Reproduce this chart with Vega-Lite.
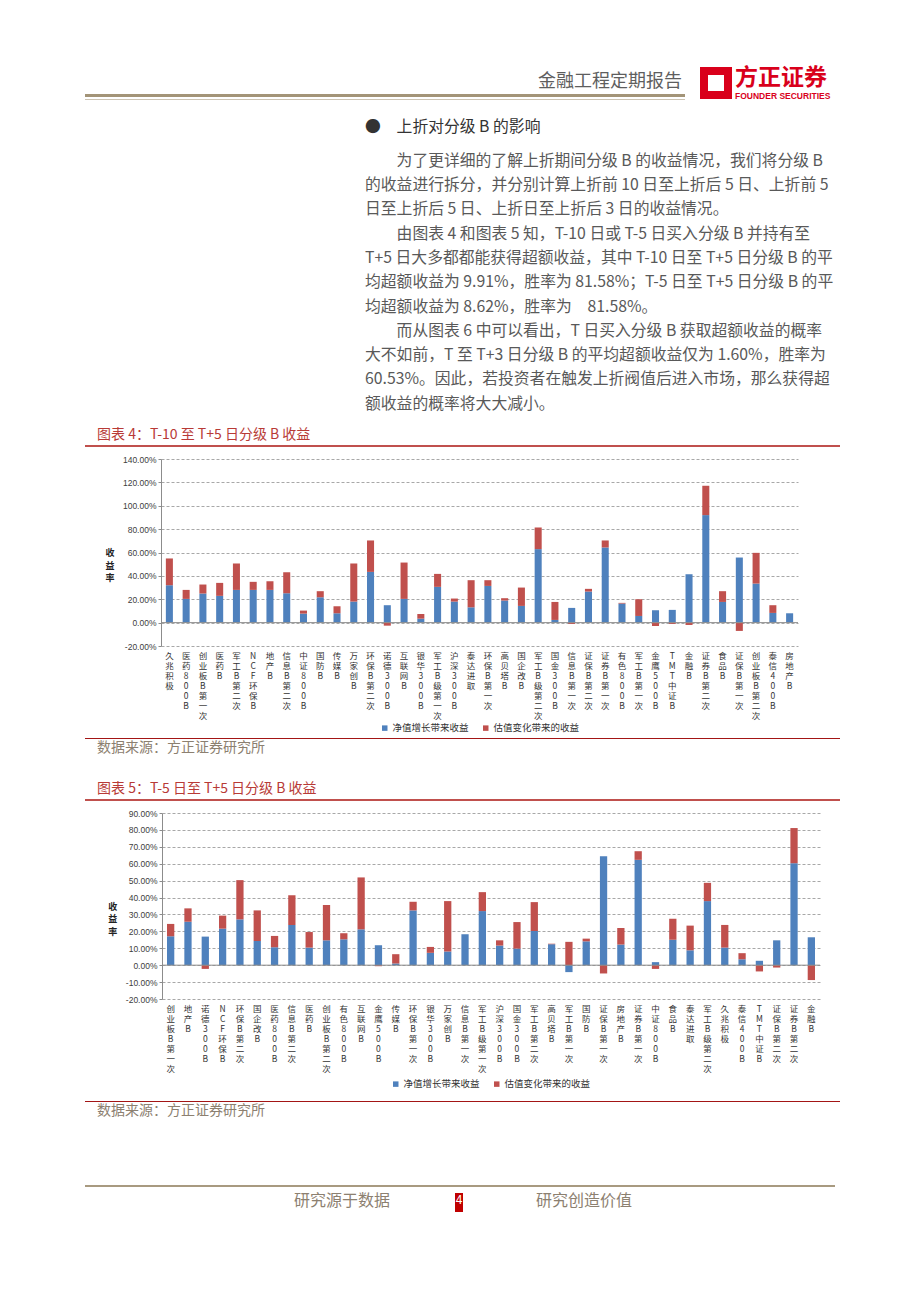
{
  "$schema": "https://vega.github.io/schema/vega-lite/v6.json",
  "background": "white",
  "padding": {"left": 85, "top": 65, "right": 0, "bottom": 0},
  "config": {
    "font": "Noto Sans CJK SC",
    "view": {"stroke": null},
    "title": {"font": "Noto Sans CJK SC", "subtitleFont": "Noto Sans CJK SC", "fontWeight": "normal", "anchor": "start"},
    "legend": {"layout": {"bottom": {"anchor": "middle", "direction": "horizontal"}}},
    "axis": {"labelFont": "Noto Sans CJK SC"}
  },
  "spacing": 0,
  "bounds": "flush",
  "resolve": {"scale": {"color": "independent"}, "legend": {"color": "independent"}},
  "vconcat": [
    {
      "spacing": 0,
      "bounds": "flush",
      "hconcat": [
        {
          "spacing": 0,
          "bounds": "flush",
          "vconcat": [
            {"width": 600, "height": 29, "data": {"values": []}, "mark": "point"},
            {"width": 600, "height": 3, "data": {"values": []}, "mark": "point",
             "view": {"fill": "#a39478", "stroke": null},
             "title": {"text": "金融工程定期报告", "orient": "top", "anchor": "end", "offset": 3, "dx": -3, "fontSize": 18, "color": "#5e5e5e"}},
            {"width": 600, "height": 2, "data": {"values": []}, "mark": "point"},
            {"width": 600, "height": 1, "data": {"values": []}, "mark": "point", "view": {"fill": "#cdc4b3", "stroke": null}}
          ]
        },
        {"width": 619, "height": 35, "data": {"values": []}, "mark": "point"},
        {
          "spacing": 0,
          "bounds": "flush",
          "vconcat": [
            {"width": 24, "height": 6, "data": {"values": []}, "mark": "point"},
            {"width": 24, "height": 24, "data": {"values": []}, "mark": "point", "view": {"fill": "white", "stroke": "#d9001b", "strokeWidth": 8}}
          ]
        },
        {"width": 31, "height": 35, "data": {"values": []}, "mark": "point"},
        {"width": 95, "height": 35, "data": {"values": []}, "mark": "point",
         "title": {"text": "方正证券", "subtitle": "FOUNDER SECURITIES", "orient": "bottom", "offset": -33, "anchor": "start", "fontSize": 23, "fontWeight": "bold", "color": "#d9001b", "subtitleFont": "Liberation Sans", "subtitleFontSize": 8.5, "subtitleFontWeight": "bold", "subtitleColor": "#d9001b", "subtitlePadding": 2}}
      ]
    },
    {"width": 755, "height": 35, "data": {"values": []}, "mark": "point"},
    {"width": 755, "height": 345, "data": {"values": []}, "mark": "point",
     "title": {
       "text": "●　上折对分级 B 的影响",
       "subtitle": [
         "\u200b　　为了更详细的了解上折期间分级 B 的收益情况，我们将分级 B",
         "的收益进行拆分，并分别计算上折前 10 日至上折后 5 日、上折前 5",
         "日至上折后 5 日、上折日至上折后 3 日的收益情况。",
         "\u200b　　由图表 4 和图表 5 知，T-10 日或 T-5 日买入分级 B 并持有至",
         "T+5 日大多都都能获得超额收益，其中 T-10 日至 T+5 日分级 B 的平",
         "均超额收益为 9.91%，胜率为 81.58%；T-5 日至 T+5 日分级 B 的平",
         "均超额收益为 8.62%，胜率为　81.58%。",
         "\u200b　　而从图表 6 中可以看出，T 日买入分级 B 获取超额收益的概率",
         "大不如前，T 至 T+3 日分级 B 的平均超额收益仅为 1.60%，胜率为",
         "60.53%。因此，若投资者在触发上折阀值后进入市场，那么获得超",
         "额收益的概率将大大减小。"
       ],
       "orient": "bottom", "offset": -325, "anchor": "start", "dx": 280,
       "fontSize": 15.8, "color": "#333333",
       "subtitleFontSize": 15.8, "subtitleColor": "#595959", "subtitleLineHeight": 24.3, "subtitlePadding": 18
     }},
    {"width": 755, "height": 2, "data": {"values": []}, "mark": "point",
     "view": {"fill": "#c0504d", "stroke": null},
     "title": {"text": "图表 4：T-10 至 T+5 日分级 B 收益", "orient": "top", "anchor": "start", "dx": 12, "offset": 3, "fontSize": 14, "color": "#b83a36"}},
    {"width": 755, "height": 12, "data": {"values": []}, "mark": "point"},
    {
      "spacing": 0,
      "bounds": "flush",
      "resolve": {"scale": {"color": "independent"}, "legend": {"color": "independent"}},
      "hconcat": [
        {"width": 76, "height": 187, "data": {"values": []}, "mark": "point"},
        {
          "width": 637,
          "height": 187,
          "layer": [
            {
              "data": {"values": [
                {"name": "久兆积极", "净值增长带来收益": 32.0, "估值变化带来的收益": 22.9},
                {"name": "医药800B", "净值增长带来收益": 20.3, "估值变化带来的收益": 7.7},
                {"name": "创业板B第一次", "净值增长带来收益": 24.9, "估值变化带来的收益": 7.7},
                {"name": "医药B", "净值增长带来收益": 22.9, "估值变化带来的收益": 11.1},
                {"name": "军工B第二次", "净值增长带来收益": 28.0, "估值变化带来的收益": 22.6},
                {"name": "NCF环保B", "净值增长带来收益": 28.0, "估值变化带来的收益": 6.9},
                {"name": "地产B", "净值增长带来收益": 28.0, "估值变化带来的收益": 7.4},
                {"name": "信息B第二次", "净值增长带来收益": 25.1, "估值变化带来的收益": 18.0},
                {"name": "中证800B", "净值增长带来收益": 7.7, "估值变化带来的收益": 2.6},
                {"name": "国防B", "净值增长带来收益": 21.7, "估值变化带来的收益": 5.2},
                {"name": "传媒B", "净值增长带来收益": 8.0, "估值变化带来的收益": 6.0},
                {"name": "万家创B", "净值增长带来收益": 18.0, "估值变化带来的收益": 32.6},
                {"name": "环保B第二次", "净值增长带来收益": 43.4, "估值变化带来的收益": 26.9},
                {"name": "诺德300B", "净值增长带来收益": 14.9, "估值变化带来的收益": -2.6},
                {"name": "互联网B", "净值增长带来收益": 20.3, "估值变化带来的收益": 31.1},
                {"name": "银华300B", "净值增长带来收益": 3.4, "估值变化带来的收益": 4.0},
                {"name": "军工B级第一次", "净值增长带来收益": 30.6, "估值变化带来的收益": 11.1},
                {"name": "沪深300B", "净值增长带来收益": 18.0, "估值变化带来的收益": 2.6},
                {"name": "泰达进取", "净值增长带来收益": 13.1, "估值变化带来的收益": 23.2},
                {"name": "环保B第一次", "净值增长带来收益": 31.4, "估值变化带来的收益": 4.9},
                {"name": "高贝塔B", "净值增长带来收益": 18.9, "估值变化带来的收益": 2.0},
                {"name": "国企改B", "净值增长带来收益": 14.3, "估值变化带来的收益": 15.7},
                {"name": "军工B级第二次", "净值增长带来收益": 62.9, "估值变化带来的收益": 18.5},
                {"name": "国金300B", "净值增长带来收益": 2.3, "估值变化带来的收益": 15.4},
                {"name": "信息B第一次", "净值增长带来收益": 12.6, "估值变化带来的收益": -1.1},
                {"name": "证保B第二次", "净值增长带来收益": 26.6, "估值变化带来的收益": 2.3},
                {"name": "证券B第一次", "净值增长带来收益": 64.3, "估值变化带来的收益": 6.0},
                {"name": "有色800B", "净值增长带来收益": 16.3, "估值变化带来的收益": 0.6},
                {"name": "军工B第一次", "净值增长带来收益": 5.7, "估值变化带来的收益": 14.3},
                {"name": "金鹰500B", "净值增长带来收益": 10.6, "估值变化带来的收益": -2.9},
                {"name": "TMT中证B", "净值增长带来收益": 10.9, "估值变化带来的收益": -1.1},
                {"name": "金融B", "净值增长带来收益": 41.4, "估值变化带来的收益": -2.0},
                {"name": "证券B第二次", "净值增长带来收益": 92.0, "估值变化带来的收益": 25.1},
                {"name": "食品B", "净值增长带来收益": 17.7, "估值变化带来的收益": 9.2},
                {"name": "证保B第一次", "净值增长带来收益": 55.7, "估值变化带来的收益": -7.1},
                {"name": "创业板B第二次", "净值增长带来收益": 33.4, "估值变化带来的收益": 26.3},
                {"name": "泰信400B", "净值增长带来收益": 8.3, "估值变化带来的收益": 6.6},
                {"name": "房地产B", "净值增长带来收益": 8.0, "估值变化带来的收益": 0.0}
              ]},
              "transform": [{"fold": ["净值增长带来收益", "估值变化带来的收益"], "as": ["series", "value"]}],
              "mark": {"type": "bar"},
              "encoding": {
                "x": {"field": "name", "type": "nominal", "sort": null, "title": null,
                      "scale": {"paddingInner": 0.58, "paddingOuter": 0.29},
                      "axis": {"labelExpr": "split(datum.label, '')", "labelAngle": 0, "labelFontSize": 8.5, "labelLineHeight": 10, "labelBaseline": "top", "labelAlign": "center", "labelPadding": 5, "ticks": false, "domain": false, "labelColor": "#333333", "labelOverlap": false}},
                "y": {"field": "value", "type": "quantitative", "stack": "zero",
                      "scale": {"domain": [-20, 140], "nice": false, "zero": false},
                      "axis": {"values": [-20, 0, 20, 40, 60, 80, 100, 120, 140], "tickCount": 20, "labelOverlap": false, "labelExpr": "replace(format(datum.value / 100, '.2%'), '−', '-')", "grid": true, "gridDash": [3, 2], "gridColor": "#a8a8a8", "domainColor": "#8c8c8c", "tickColor": "#8c8c8c", "tickSize": 3, "labelFont": "Liberation Sans", "labelFontSize": 8.5, "labelColor": "#404040", "title": ["收", "益", "率"], "titleAngle": 0, "titleFontSize": 9, "titleFontWeight": "bold", "titleLineHeight": 12.5, "titleAlign": "center", "titleBaseline": "middle", "titlePadding": -12, "titleColor": "#222222"}},
                "color": {"field": "series", "type": "nominal",
                          "scale": {"domain": ["净值增长带来收益", "估值变化带来的收益"], "range": ["#4f81bd", "#c0504d"]},
                          "legend": {"orient": "bottom", "direction": "horizontal", "title": null, "symbolType": "square", "symbolSize": 30, "symbolStrokeWidth": 0, "labelFontSize": 9.5, "labelColor": "#333333", "columnPadding": 12, "offset": 3, "labelOffset": 3}},
                "order": {"field": "series", "sort": "descending"}
              }
            },
            {
              "data": {"values": [{"v": 0}]},
              "mark": {"type": "rule", "color": "#8c8c8c", "strokeWidth": 1},
              "encoding": {"y": {"field": "v", "type": "quantitative"}}
            }
          ]
        }
      ]
    },
    {"width": 755, "height": 279, "data": {"values": []}, "mark": "point"},
    {"width": 755, "height": 1, "data": {"values": []}, "mark": "point",
     "view": {"fill": "#a31515", "stroke": null},
     "title": {"text": "数据来源：方正证券研究所", "orient": "bottom", "anchor": "start", "dx": 12, "offset": 2, "fontSize": 14, "color": "#8c8070"}},
    {"width": 755, "height": 60, "data": {"values": []}, "mark": "point"},
    {"width": 755, "height": 2, "data": {"values": []}, "mark": "point",
     "view": {"fill": "#c0504d", "stroke": null},
     "title": {"text": "图表 5：T-5 日至 T+5 日分级 B 收益", "orient": "top", "anchor": "start", "dx": 12, "offset": 3, "fontSize": 14, "color": "#b83a36"}},
    {"width": 755, "height": 12, "data": {"values": []}, "mark": "point"},
    {
      "spacing": 0,
      "bounds": "flush",
      "resolve": {"scale": {"color": "independent"}, "legend": {"color": "independent"}},
      "hconcat": [
        {"width": 77, "height": 186, "data": {"values": []}, "mark": "point"},
        {
          "width": 658,
          "height": 186,
          "layer": [
            {
              "data": {"values": [
                {"name": "创业板B第一次", "净值增长带来收益": 17.1, "估值变化带来的收益": 7.3},
                {"name": "地产B", "净值增长带来收益": 25.7, "估值变化带来的收益": 7.9},
                {"name": "诺德300B", "净值增长带来收益": 16.9, "估值变化带来的收益": -2.2},
                {"name": "NCF环保B", "净值增长带来收益": 21.6, "估值变化带来的收益": 7.7},
                {"name": "环保B第二次", "净值增长带来收益": 27.1, "估值变化带来的收益": 23.2},
                {"name": "国企改B", "净值增长带来收益": 14.3, "估值变化带来的收益": 18.1},
                {"name": "医药800B", "净值增长带来收益": 10.6, "估值变化带来的收益": 6.7},
                {"name": "信息B第二次", "净值增长带来收益": 23.8, "估值变化带来的收益": 17.5},
                {"name": "医药B", "净值增长带来收益": 10.4, "估值变化带来的收益": 9.2},
                {"name": "创业板B第二次", "净值增长带来收益": 14.7, "估值变化带来的收益": 20.9},
                {"name": "有色800B", "净值增长带来收益": 15.3, "估值变化带来的收益": 3.6},
                {"name": "互联网B", "净值增长带来收益": 21.2, "估值变化带来的收益": 30.7},
                {"name": "金鹰500B", "净值增长带来收益": 11.8, "估值变化带来的收益": -0.6},
                {"name": "传媒B", "净值增长带来收益": 1.0, "估值变化带来的收益": 5.5},
                {"name": "环保B第一次", "净值增长带来收益": 32.4, "估值变化带来的收益": 5.1},
                {"name": "银华300B", "净值增长带来收益": 7.3, "估值变化带来的收益": 3.5},
                {"name": "万家创B", "净值增长带来收益": 8.1, "估值变化带来的收益": 29.8},
                {"name": "信息B第一次", "净值增长带来收益": 18.3, "估值变化带来的收益": 0.0},
                {"name": "军工B级第一次", "净值增长带来收益": 32.0, "估值变化带来的收益": 11.2},
                {"name": "沪深300B", "净值增长带来收益": 11.6, "估值变化带来的收益": 3.1},
                {"name": "国金300B", "净值增长带来收益": 9.8, "估值变化带来的收益": 15.7},
                {"name": "军工B第二次", "净值增长带来收益": 20.2, "估值变化带来的收益": 17.1},
                {"name": "高贝塔B", "净值增长带来收益": 12.4, "估值变化带来的收益": 0.3},
                {"name": "军工B第一次", "净值增长带来收益": -4.1, "估值变化带来的收益": 13.8},
                {"name": "国防B", "净值增长带来收益": 14.1, "估值变化带来的收益": 1.6},
                {"name": "证保B第一次", "净值增长带来收益": 64.4, "估值变化带来的收益": -4.9},
                {"name": "房地产B", "净值增长带来收益": 12.2, "估值变化带来的收益": 9.8},
                {"name": "证券B第一次", "净值增长带来收益": 62.3, "估值变化带来的收益": 5.1},
                {"name": "中证800B", "净值增长带来收益": 1.8, "估值变化带来的收益": -2.2},
                {"name": "食品B", "净值增长带来收益": 15.1, "估值变化带来的收益": 12.4},
                {"name": "泰达进取", "净值增长带来收益": 8.8, "估值变化带来的收益": 14.6},
                {"name": "军工B级第二次", "净值增长带来收益": 37.9, "估值变化带来的收益": 10.8},
                {"name": "久兆积极", "净值增长带来收益": 10.4, "估值变化带来的收益": 13.4},
                {"name": "泰信400B", "净值增长带来收益": 3.5, "估值变化带来的收益": 3.6},
                {"name": "TMT中证B", "净值增长带来收益": 2.6, "估值变化带来的收益": -3.7},
                {"name": "证保B第二次", "净值增长带来收益": 14.7, "估值变化带来的收益": -1.4},
                {"name": "证券B第二次", "净值增长带来收益": 60.3, "估值变化带来的收益": 20.8},
                {"name": "金融B", "净值增长带来收益": 16.5, "估值变化带来的收益": -8.8}
              ]},
              "transform": [{"fold": ["净值增长带来收益", "估值变化带来的收益"], "as": ["series", "value"]}],
              "mark": {"type": "bar"},
              "encoding": {
                "x": {"field": "name", "type": "nominal", "sort": null, "title": null,
                      "scale": {"paddingInner": 0.58, "paddingOuter": 0.29},
                      "axis": {"labelExpr": "split(datum.label, '')", "labelAngle": 0, "labelFontSize": 8.5, "labelLineHeight": 10, "labelBaseline": "top", "labelAlign": "center", "labelPadding": 5, "ticks": false, "domain": false, "labelColor": "#333333", "labelOverlap": false}},
                "y": {"field": "value", "type": "quantitative", "stack": "zero",
                      "scale": {"domain": [-20, 90], "nice": false, "zero": false},
                      "axis": {"values": [-20, -10, 0, 10, 20, 30, 40, 50, 60, 70, 80, 90], "tickCount": 20, "labelOverlap": false, "labelExpr": "replace(format(datum.value / 100, '.2%'), '−', '-')", "grid": true, "gridDash": [3, 2], "gridColor": "#a8a8a8", "domainColor": "#8c8c8c", "tickColor": "#8c8c8c", "tickSize": 3, "labelFont": "Liberation Sans", "labelFontSize": 8.5, "labelColor": "#404040", "title": ["收", "益", "率"], "titleAngle": 0, "titleFontSize": 9, "titleFontWeight": "bold", "titleLineHeight": 12.5, "titleAlign": "center", "titleBaseline": "middle", "titlePadding": -12, "titleColor": "#222222"}},
                "color": {"field": "series", "type": "nominal",
                          "scale": {"domain": ["净值增长带来收益", "估值变化带来的收益"], "range": ["#4f81bd", "#c0504d"]},
                          "legend": {"orient": "bottom", "direction": "horizontal", "title": null, "symbolType": "square", "symbolSize": 30, "symbolStrokeWidth": 0, "labelFontSize": 9.5, "labelColor": "#333333", "columnPadding": 12, "offset": 6, "labelOffset": 3}},
                "order": {"field": "series", "sort": "descending"}
              }
            },
            {
              "data": {"values": [{"v": 0}]},
              "mark": {"type": "rule", "color": "#8c8c8c", "strokeWidth": 1},
              "encoding": {"y": {"field": "v", "type": "quantitative"}}
            }
          ]
        }
      ]
    },
    {"width": 755, "height": 288, "data": {"values": []}, "mark": "point"},
    {"width": 755, "height": 1, "data": {"values": []}, "mark": "point",
     "view": {"fill": "#a31515", "stroke": null},
     "title": {"text": "数据来源：方正证券研究所", "orient": "bottom", "anchor": "start", "dx": 12, "offset": 2, "fontSize": 14, "color": "#8c8070"}},
    {"width": 755, "height": 83, "data": {"values": []}, "mark": "point"},
    {"width": 750, "height": 2, "data": {"values": []}, "mark": "point", "view": {"fill": "#a89a80", "stroke": null}},
    {"width": 755, "height": 6, "data": {"values": []}, "mark": "point"},
    {
      "spacing": 0,
      "bounds": "flush",
      "hconcat": [
        {"width": 370, "height": 19, "data": {"values": []}, "mark": "point",
         "title": {"text": "研究源于数据", "orient": "bottom", "anchor": "end", "dx": -65, "offset": -19, "fontSize": 16, "color": "#8c8070"}},
        {"width": 8, "height": 19, "data": {"values": []}, "mark": "point", "view": {"fill": "#c00000", "stroke": null},
         "title": {"text": "4", "orient": "bottom", "anchor": "middle", "offset": -17, "fontSize": 12, "color": "#ffffff"}},
        {"width": 377, "height": 19, "data": {"values": []}, "mark": "point",
         "title": {"text": "研究创造价值", "orient": "bottom", "anchor": "start", "dx": 73, "offset": -19, "fontSize": 16, "color": "#8c8070"}}
      ]
    }
  ]
}
